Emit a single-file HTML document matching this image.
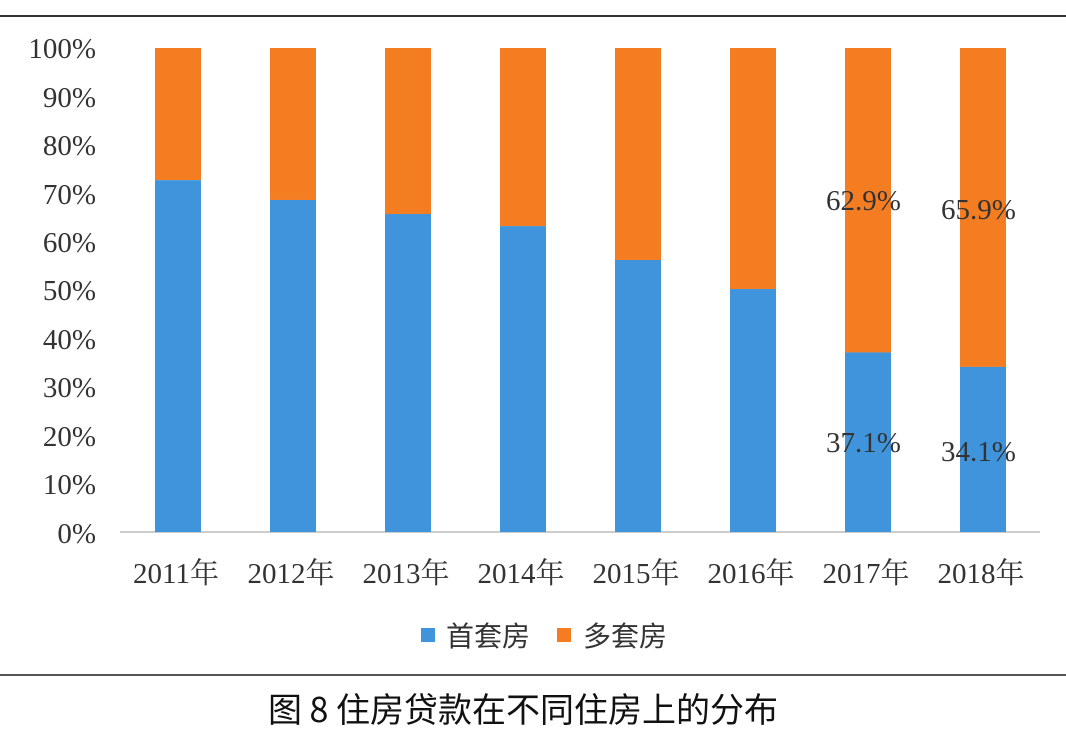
<!DOCTYPE html><html><head><meta charset="utf-8"><style>
body{margin:0;background:#fff;width:1066px;height:738px;overflow:hidden}
svg text{font-family:"Liberation Serif","Noto Serif CJK SC",serif;fill:#333}
</style></head><body>
<svg width="1066" height="738" xmlns="http://www.w3.org/2000/svg">
<line x1="0" y1="16" x2="1066" y2="16" stroke="#333" stroke-width="2"/>
<line x1="0" y1="675" x2="1066" y2="675" stroke="#555" stroke-width="2"/>
<g font-size="29" text-anchor="end">
<text x="96" y="58">100%</text><text x="96" y="107">90%</text><text x="96" y="155">80%</text>
<text x="96" y="204">70%</text><text x="96" y="252">60%</text><text x="96" y="300">50%</text>
<text x="96" y="349">40%</text><text x="96" y="397">30%</text><text x="96" y="446">20%</text>
<text x="96" y="494">10%</text><text x="96" y="543">0%</text>
</g>
<line x1="120" y1="532" x2="1040" y2="532" stroke="#bbb" stroke-width="1.5"/>
<g id="bars"></g>
<g font-size="29" text-anchor="middle">
<text x="176" y="583">2011年</text><text x="291" y="583">2012年</text><text x="406" y="583">2013年</text>
<text x="521" y="583">2014年</text><text x="636" y="583">2015年</text><text x="751" y="583">2016年</text>
<text x="866" y="583">2017年</text><text x="981" y="583">2018年</text>
</g>
<g font-size="29">
<text x="826" y="210">62.9%</text><text x="941" y="219">65.9%</text>
<text x="826" y="452">37.1%</text><text x="941" y="461">34.1%</text>
</g>
<rect x="421" y="628" width="14" height="14" fill="#3f94dc"/>
<text x="446" y="646" font-size="28" style="font-family:'Noto Sans CJK SC',sans-serif">首套房</text>
<rect x="557" y="628" width="14" height="14" fill="#f47d22"/>
<text x="583" y="646" font-size="28" style="font-family:'Noto Sans CJK SC',sans-serif">多套房</text>
<text x="523" y="722" font-size="34" text-anchor="middle" style="font-family:'Noto Sans CJK SC',sans-serif;fill:#111">图 8 住房贷款在不同住房上的分布</text>
</svg>
<script>
var v=[72.7,68.6,65.7,63.2,56.2,50.2,37.1,34.1],g=document.getElementById('bars'),s='';
for(var i=0;i<8;i++){var cx=178+i*115,x=cx-23,y=532-v[i]*4.84;
s+='<rect x="'+x+'" y="48" width="46" height="'+(y-48)+'" fill="#f47d22"/>';
s+='<rect x="'+x+'" y="'+y+'" width="46" height="'+(532-y)+'" fill="#3f94dc"/>';}
g.innerHTML=s;
</script>
</body></html>
